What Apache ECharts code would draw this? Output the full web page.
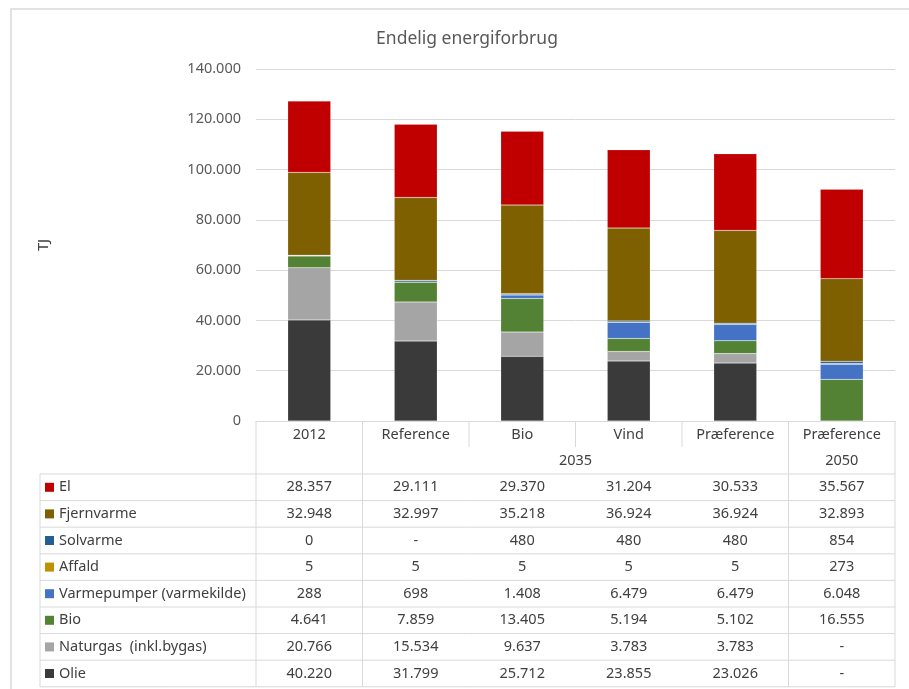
<!DOCTYPE html>
<html>
<head>
<meta charset="utf-8">
<script src="https://cdn.jsdelivr.net/npm/echarts@6/dist/echarts.min.js"></script>
<style>
  html, body { margin: 0; padding: 0; background: #fff; }
  #main { width: 909px; height: 689px; }
</style>
</head>
<body>
<div id="main"></div>
<script>
// kategorier (scenarier) og gruppering
const categories = ['2012', 'Reference', 'Bio', 'Vind', 'Præference', 'Præference'];
const groups = [{ label: '2035', from: 1, to: 4 }, { label: '2050', from: 5, to: 5 }];
const yTicks = [0, 20000, 40000, 60000, 80000, 100000, 120000, 140000];

// serier, null = "-"
const olie = [40220, 31799, 25712, 23855, 23026, null];
const naturgas = [20766, 15534, 9637, 3783, 3783, null];
const bio = [4641, 7859, 13405, 5194, 5102, 16555];
const varmepumper = [288, 698, 1408, 6479, 6479, 6048];
const affald = [5, 5, 5, 5, 5, 273];
const solvarme = [0, null, 480, 480, 480, 854];
const fjernvarme = [32948, 32997, 35218, 36924, 36924, 32893];
const el = [28357, 29111, 29370, 31204, 30533, 35567];

// stak nedefra og op
const seriesList = [
  { name: 'Olie', data: olie, color: '#3a3a3a' },
  { name: 'Naturgas  (inkl.bygas)', data: naturgas, color: '#a5a5a5' },
  { name: 'Bio', data: bio, color: '#548235' },
  { name: 'Varmepumper (varmekilde)', data: varmepumper, color: '#4472c4' },
  { name: 'Affald', data: affald, color: '#bf9000' },
  { name: 'Solvarme', data: solvarme, color: '#255e91' },
  { name: 'Fjernvarme', data: fjernvarme, color: '#7f6000' },
  { name: 'El', data: el, color: '#c00000' }
];

const FONT = 'Noto Sans';
const FS = 14.5;
const lineColor = '#d9d9d9';
const textColor = '#404040';

function fmt(v) {
  if (v == null) return '-';
  return String(v).replace(/\B(?=(\d{3})+(?!\d))/g, '.');
}

const chart = echarts.init(document.getElementById('main'));

chart.setOption({
  backgroundColor: '#ffffff',
  animation: false,
  title: {
    text: 'Endelig energiforbrug',
    left: 462,
    top: 25,
    textAlign: 'center',
    textStyle: { fontFamily: FONT, fontSize: 17.5, fontWeight: 'normal', color: '#595959' }
  },
  grid: { left: 256, right: 14, top: 69, bottom: 268 },
  xAxis: {
    type: 'category',
    data: categories,
    axisLine: { lineStyle: { color: lineColor } },
    axisTick: { show: false },
    axisLabel: { margin: 6, fontFamily: FONT, fontSize: FS, color: textColor }
  },
  yAxis: {
    type: 'value',
    min: yTicks[0],
    max: yTicks[yTicks.length - 1],
    interval: yTicks[1] - yTicks[0],
    name: 'TJ',
    nameLocation: 'middle',
    nameRotate: 90,
    nameGap: 205,
    nameTextStyle: { fontFamily: FONT, fontSize: FS, color: textColor },
    axisLine: { show: false },
    axisTick: { show: false },
    splitLine: { lineStyle: { color: lineColor } },
    axisLabel: {
      margin: 15,
      fontFamily: FONT, fontSize: FS, color: '#595959',
      formatter: fmt
    }
  },
  series: seriesList.map(s => ({
    name: s.name,
    type: 'bar',
    stack: 'total',
    barWidth: 43,
    itemStyle: { color: s.color, borderColor: 'rgba(255,255,255,0.35)', borderWidth: 0.5 },
    data: s.data.map(v => v == null ? 0 : v)
  }))
});

// datatabel under grafen
function buildTable() {
  const centers = categories.map((c, i) => chart.convertToPixel({ xAxisIndex: 0 }, i));
  const band = centers[1] - centers[0];
  const bounds = centers.map(c => c - band / 2).concat([centers[centers.length - 1] + band / 2]);
  const axisY = chart.convertToPixel({ yAxisIndex: 0 }, 0);
  const headerSplit = axisY + 26;
  const rowTop = axisY + 53;
  const rowH = 26.6;
  const leftX = 40;
  const rightX = bounds[bounds.length - 1];
  const rows = seriesList.slice().reverse();
  const bottomY = rowTop + rowH * rows.length;
  const els = [];
  const line = (x1, y1, x2, y2) => els.push({
    type: 'line', silent: true,
    shape: { x1: x1, y1: y1, x2: x2, y2: y2 },
    style: { stroke: lineColor, lineWidth: 1 }
  });
  const text = (x, y, t, align) => els.push({
    type: 'text', silent: true, x: x, y: y,
    style: { text: t, fill: textColor, font: FS + 'px "' + FONT + '"', align: align || 'center', verticalAlign: 'middle' }
  });

  // ramme om diagramomraadet
  els.push({ type: 'rect', silent: true, shape: { x: 11, y: 9, width: 1000, height: 1000 }, style: { fill: 'none', stroke: lineColor, lineWidth: 1.5 } });

  // lodrette linjer i hovedet
  const fullCols = new Set([0, 1, 5, 6]);
  bounds.forEach((b, i) => {
    if (fullCols.has(i)) line(b, axisY, b, bottomY);
    else line(b, axisY, b, headerSplit);
  });
  line(leftX, rowTop, leftX, bottomY);
  for (let r = 0; r <= rows.length; r++) line(leftX, rowTop + r * rowH, rightX, rowTop + r * rowH);

  // gruppeetiketter
  groups.forEach(g => text((bounds[g.from] + bounds[g.to + 1]) / 2, axisY + 40, g.label));

  rows.forEach((s, r) => {
    const cy = rowTop + r * rowH + rowH / 2;
    els.push({ type: 'rect', silent: true, shape: { x: 45, y: cy - 4.5, width: 9, height: 9 }, style: { fill: s.color } });
    text(59, cy, s.name, 'left');
    s.data.forEach((v, i) => text(centers[i], cy, fmt(v)));
  });
  chart.setOption({ graphic: els });
}
buildTable();
</script>
</body>
</html>
